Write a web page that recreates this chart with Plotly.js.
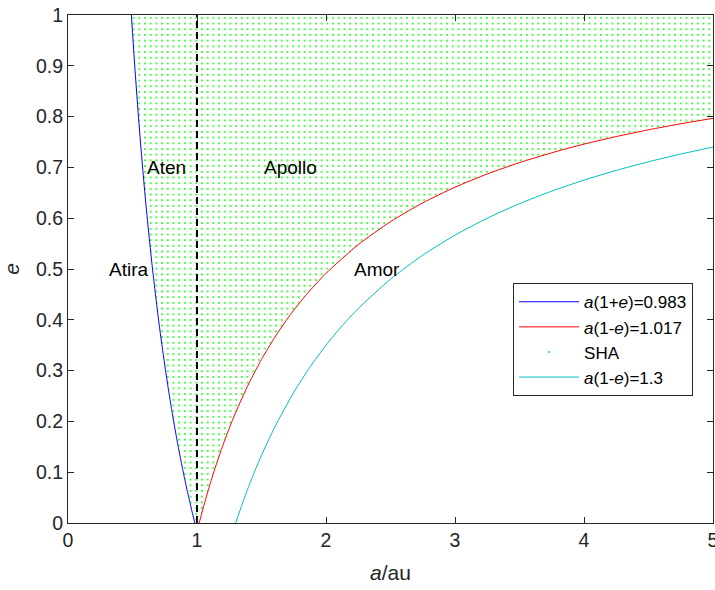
<!DOCTYPE html>
<html>
<head>
<meta charset="utf-8">
<script src="https://cdn.plot.ly/plotly-3.0.1.min.js"></script>
<style>
html,body{margin:0;padding:0;background:#fff;}
#chart{width:715px;height:590px;}
</style>
</head>
<body>
<div id="chart"></div>
<script>
// a(1+e)=0.983
const blueA = [0.4915, 0.5, 0.52, 0.55, 0.575, 0.6, 0.625, 0.65, 0.675, 0.7, 0.725, 0.75, 0.775, 0.8, 0.825, 0.85, 0.875, 0.9, 0.925, 0.95, 0.965, 0.983];
const blueE = [1.0, 0.966, 0.8904, 0.787, 0.7096, 0.638, 0.5728, 0.512, 0.4563, 0.404, 0.3559, 0.311, 0.2684, 0.229, 0.1915, 0.156, 0.1234, 0.092, 0.0627, 0.035, 0.0187, 0.0];
// a(1-e)=1.017
const redA = [1.017, 1.03, 1.05, 1.1, 1.15, 1.2, 1.25, 1.3, 1.4, 1.5, 1.6, 1.7, 1.75, 1.85, 2.0, 2.25, 2.5, 2.75, 3.0, 3.25, 3.5, 3.75, 4.0, 4.25, 4.5, 4.75, 5.0];
const redE = [0.0, 0.0126, 0.0314, 0.0755, 0.1157, 0.1525, 0.1864, 0.2177, 0.2736, 0.322, 0.3644, 0.4018, 0.4189, 0.4503, 0.4915, 0.548, 0.5932, 0.6302, 0.661, 0.6871, 0.7094, 0.7288, 0.7458, 0.7607, 0.774, 0.7859, 0.7966];
// a(1-e)=1.3
const cyanA = [1.3, 1.35, 1.4, 1.45, 1.5, 1.6, 1.75, 1.875, 2.0, 2.125, 2.25, 2.5, 2.75, 3.0, 3.25, 3.5, 3.75, 4.0, 4.25, 4.5, 4.75, 5.0];
const cyanE = [0.0, 0.037, 0.0714, 0.1034, 0.1333, 0.1875, 0.2571, 0.3067, 0.35, 0.3882, 0.4222, 0.48, 0.5273, 0.5667, 0.6, 0.6286, 0.6533, 0.675, 0.6941, 0.7111, 0.7263, 0.74];
// Earth line a = 1
const earthA = [1, 1];
const earthE = [0, 1];
// region labels
const labelText = ["Atira", "Aten", "Apollo", "Amor"];
const labelA = [0.3, 0.6, 1.5, 2.2];
const labelE = [0.5, 0.7, 0.7, 0.5];
const legendNames = ["<i>a</i>(1+<i>e</i>)=0.983", "<i>a</i>(1-<i>e</i>)=1.017", "SHA", "<i>a</i>(1-<i>e</i>)=1.3"];

// SHA region polygon: blue curve, red curve, top edge e=1
const shaA = blueA.concat(redA, [5.0, blueA[0]]);
const shaE = blueE.concat(redE, [1.0, blueE[0]]);

const FONT = 'Liberation Sans, Arial, Helvetica, sans-serif';

const traces = [
  {x: shaA, y: shaE, mode: 'none', fill: 'toself', fillcolor: 'rgba(0,0,0,0)',
   fillpattern: {shape: '.', size: 5.7, solidity: 0.09, fgcolor: '#00ff00', bgcolor: 'rgba(0,0,0,0)'},
   showlegend: false, hoverinfo: 'skip'},
  {x: earthA, y: earthE, mode: 'lines', line: {color: '#000000', width: 2, dash: '7px,4px'}, showlegend: false},
  {x: blueA, y: blueE, mode: 'lines', line: {color: '#0000ff', width: 1, shape: 'spline', smoothing: 0.6}, name: legendNames[0]},
  {x: redA, y: redE, mode: 'lines', line: {color: '#ff0000', width: 1, shape: 'spline', smoothing: 0.6}, name: legendNames[1]},
  {x: [-10], y: [-10], mode: 'markers', marker: {color: '#00ff00', size: 2}, name: legendNames[2]},
  {x: cyanA, y: cyanE, mode: 'lines', line: {color: '#00bfbf', width: 1, shape: 'spline', smoothing: 0.6}, name: legendNames[3]}
];

const annotations = labelText.map((t, i) => ({
  x: labelA[i], y: labelE[i], xref: 'x', yref: 'y', text: t, showarrow: false,
  xanchor: 'left', yanchor: 'middle', font: {size: 19, color: '#000000', family: FONT}
}));

const axisCommon = {
  showgrid: false, zeroline: false, showline: true, linecolor: '#262626', linewidth: 1,
  mirror: 'ticks', ticks: 'inside', ticklen: 6, tickcolor: '#262626', automargin: false,
  ticklabeloverflow: 'allow',
  tickfont: {size: 19.5, color: '#262626', family: FONT}
};

const layout = {
  width: 715, height: 590,
  margin: {l: 68, r: 2, t: 15, b: 67},
  paper_bgcolor: '#ffffff', plot_bgcolor: '#ffffff',
  font: {family: FONT, color: '#262626'},
  xaxis: Object.assign({}, axisCommon, {range: [0, 5], dtick: 1, tick0: 0,
    title: {text: '<i>a</i>/au', font: {size: 21, color: '#262626'}, standoff: 14}}),
  yaxis: Object.assign({}, axisCommon, {range: [0, 1], dtick: 0.1, tick0: 0,
    title: {text: '<i>e</i>', font: {size: 21, color: '#262626'}, standoff: 14}}),
  showlegend: true,
  legend: {x: 0.69, y: 0.472, xanchor: 'left', yanchor: 'top', bgcolor: '#ffffff',
    bordercolor: '#262626', borderwidth: 1, font: {size: 17, color: '#000000', family: FONT},
    itemwidth: 60, tracegroupgap: 0},
  annotations: annotations
};

Plotly.newPlot('chart', traces, layout, {displayModeBar: false, staticPlot: true});
</script>
</body>
</html>
